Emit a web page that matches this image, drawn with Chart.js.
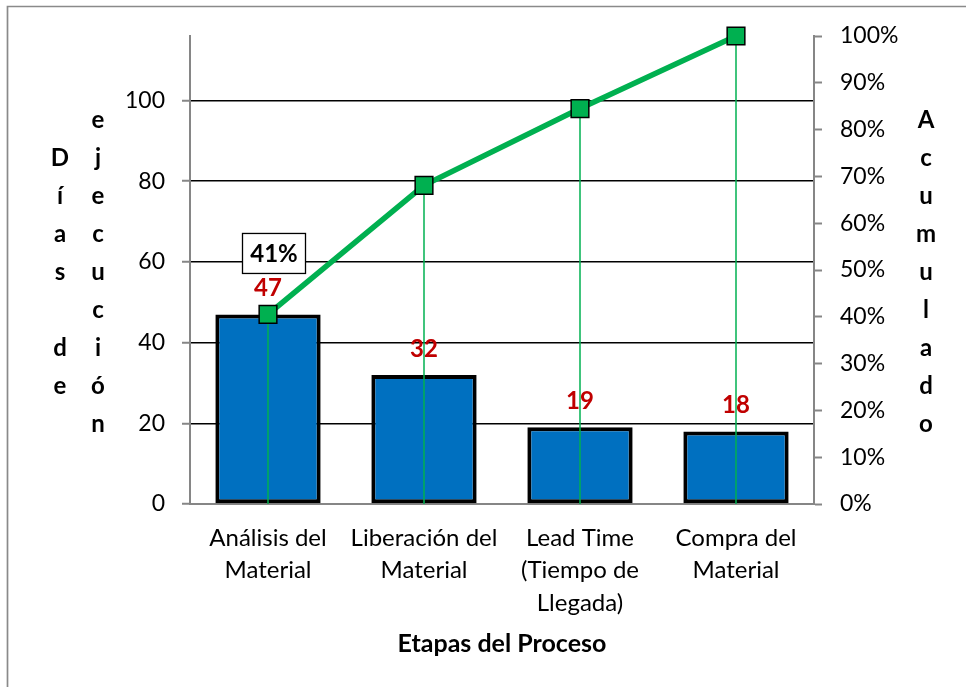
<!DOCTYPE html>
<html>
<head>
<meta charset="utf-8">
<script src="https://cdn.jsdelivr.net/npm/chart.js"></script>
<style>
  html, body { margin: 0; padding: 0; background: #fff; }
  #wrap { width: 966px; height: 687px; }
</style>
</head>
<body>
<div id="wrap"><canvas id="c" width="966" height="687"></canvas></div>
<script>
// ---- data ----
const categories = [
  ["Análisis del", "Material"],
  ["Liberación del", "Material"],
  ["Lead Time", "(Tiempo de", "Llegada)"],
  ["Compra del", "Material"]
];
const days = [47, 32, 19, 18];
const cumulativePct = [40.5, 68.1, 84.5, 100];
const cumulativeLabels = ["41%", "", "", ""];
const leftAxisMax = 116;
const leftAxisStep = 20;
const rightAxisStep = 10;
const xTitle = "Etapas del Proceso";
const leftTitleCols = [["D", "í", "a", "s", "", "d", "e"], ["e", "j", "e", "c", "u", "c", "i", "ó", "n"]];
const rightTitle = ["A", "c", "u", "m", "u", "l", "a", "d", "o"];

const FONT = "Lato, 'Open Sans', sans-serif";
const GRAY = '#868686';

const framePlugin = {
  id: 'frame',
  beforeDraw(chart) {
    const c = chart.ctx;
    c.save();
    c.fillStyle = '#fff';
    c.fillRect(0, 0, chart.width, chart.height);
    c.strokeStyle = '#8a8a8a';
    c.lineWidth = 1.7;
    c.beginPath();
    c.moveTo(7.5, chart.height);
    c.lineTo(7.5, 6.5);
    c.lineTo(chart.width, 6.5);
    c.stroke();
    c.restore();
  }
};

const dropLines = {
  id: 'dropLines',
  beforeDatasetDraw(chart, args) {
    if (args.index !== 1) return;
    const c = chart.ctx, bottom = chart.chartArea.bottom;
    c.save();
    c.strokeStyle = '#00B050';
    c.lineWidth = 1.5;
    args.meta.data.forEach(pt => {
      c.beginPath();
      c.moveTo(pt.x, pt.y);
      c.lineTo(pt.x, bottom);
      c.stroke();
    });
    c.restore();
  }
};

const labelsPlugin = {
  id: 'labelsPlugin',
  afterDatasetsDraw(chart) {
    const c = chart.ctx;
    c.save();
    const barMeta = chart.getDatasetMeta(0);
    c.font = "bold 24px " + FONT;
    c.fillStyle = '#C00000';
    c.textAlign = 'center';
    c.textBaseline = 'alphabetic';
    barMeta.data.forEach((bar, i) => {
      c.fillText(String(days[i]), bar.x, bar.y - 18);
    });
    const lineMeta = chart.getDatasetMeta(1);
    lineMeta.data.forEach((pt, i) => {
      const txt = cumulativeLabels[i];
      if (!txt) return;
      const cx = pt.x + 6, cy = pt.y - 61;
      const w = 63, h = 40;
      c.fillStyle = '#fff';
      c.fillRect(cx - w / 2, cy - h / 2, w, h);
      c.strokeStyle = '#000';
      c.lineWidth = 1.3;
      c.strokeRect(cx - w / 2, cy - h / 2, w, h);
      c.fillStyle = '#000';
      c.font = "bold 24px " + FONT;
      c.textBaseline = 'middle';
      c.fillText(txt, cx, cy + 1);
    });
    c.restore();
  }
};

const titlesPlugin = {
  id: 'titlesPlugin',
  afterDraw(chart) {
    const c = chart.ctx, a = chart.chartArea;
    c.save();
    c.fillStyle = '#000';
    c.font = "bold 25px " + FONT;
    c.textAlign = 'center';
    c.textBaseline = 'middle';
    c.fillText(xTitle, (a.left + a.right) / 2, a.bottom + 140);
    c.font = "bold 24px " + FONT;
    const spacing = 38, midY = 272;
    const colX = [60, 98];
    leftTitleCols.forEach((col, k) => {
      col.forEach((ch, i) => {
        c.fillText(ch, colX[k], midY + (i - (col.length - 1) / 2) * spacing);
      });
    });
    rightTitle.forEach((ch, i) => {
      c.fillText(ch, a.right + 112, midY + (i - (rightTitle.length - 1) / 2) * spacing);
    });
    c.restore();
  }
};

new Chart(document.getElementById('c'), {
  data: {
    labels: categories,
    datasets: [
      {
        type: 'bar',
        data: days,
        yAxisID: 'y',
        backgroundColor: '#0070C0',
        borderColor: '#000',
        borderWidth: 4,
        borderSkipped: false,
        barPercentage: 0.675,
        categoryPercentage: 1,
        order: 2
      },
      {
        type: 'line',
        data: cumulativePct,
        yAxisID: 'y1',
        clip: false,
        borderColor: '#00B050',
        borderWidth: 5.5,
        pointStyle: 'rect',
        pointRadius: 12.5,
        pointHoverRadius: 12.5,
        pointBackgroundColor: '#00B050',
        pointBorderColor: '#000',
        pointBorderWidth: 1.5,
        tension: 0,
        order: 1
      }
    ]
  },
  options: {
    responsive: false,
    devicePixelRatio: 1,
    animation: false,
    layout: { padding: { top: 36, left: 0, right: 0, bottom: 0 } },
    plugins: { legend: { display: false }, tooltip: { enabled: false } },
    scales: {
      x: {
        position: 'bottom',
        offset: true,
        grid: { display: false, drawTicks: false },
        border: { display: true, color: GRAY, width: 2 },
        ticks: {
          color: '#000',
          padding: 18,
          maxRotation: 0,
          autoSkip: false,
          font: { family: FONT, size: 24, lineHeight: '32.5px' }
        },
        afterFit(s) { s.height = 183; }
      },
      y: {
        position: 'left',
        min: 0,
        max: leftAxisMax,
        grid: {
          color: ctx => (ctx.tick && ctx.tick.value === 0) ? 'rgba(0,0,0,0)' : '#000',
          lineWidth: 1.5,
          tickColor: GRAY,
          tickLength: 8,
          tickWidth: 2
        },
        border: { display: true, color: GRAY, width: 2 },
        ticks: {
          stepSize: leftAxisStep,
          includeBounds: false,
          color: '#000',
          padding: 17,
          font: { family: FONT, size: 23 }
        },
        afterFit(s) { s.width = 190; }
      },
      y1: {
        position: 'right',
        min: 0,
        max: 100,
        grid: {
          drawOnChartArea: false,
          tickColor: GRAY,
          tickLength: 8,
          tickWidth: 2
        },
        border: { display: true, color: GRAY, width: 2 },
        ticks: {
          stepSize: rightAxisStep,
          color: '#000',
          padding: 18,
          font: { family: FONT, size: 23 },
          callback: v => v + '%'
        },
        afterFit(s) { s.width = 152; }
      }
    }
  },
  plugins: [framePlugin, dropLines, labelsPlugin, titlesPlugin]
});
</script>
</body>
</html>
